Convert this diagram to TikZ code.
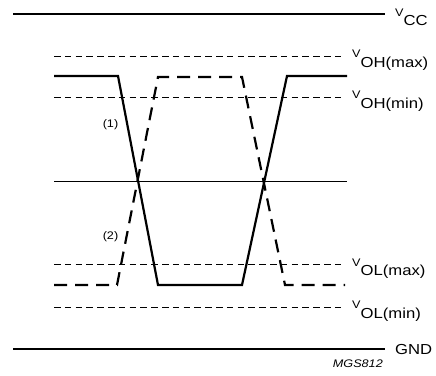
\documentclass[tikz,border=0pt]{standalone}
\usepackage{fontspec}
\setmainfont{Liberation Sans}
\newfontfamily\lbl[FakeStretch=1.15]{Liberation Sans}
\newcommand{\Vsub}[1]{{\fontsize{11}{12}\selectfont V}\raisebox{-9.5pt}{\fontsize{14.5}{16}\selectfont #1}}
\begin{document}
\begin{tikzpicture}[x=1pt,y=-1pt,
  rail/.style={line width=1.4pt},
  lvl/.style={line width=1pt, dash pattern=on 6.5pt off 4.3pt},
  sig/.style={line width=2.2pt, line join=miter},
  sigd/.style={line width=2.2pt, dash pattern=on 13pt off 8pt},
  mid/.style={line width=1pt},
  lab/.style={inner sep=0pt, font=\lbl, anchor=base west},
  small/.style={inner sep=0pt, font=\lbl\fontsize{11}{12}\selectfont}]
\useasboundingbox (0,0) rectangle (436,375);
\fill[white] (0,0) rectangle (436,375);
% rails
\coordinate (vccL) at (13,14);  \coordinate (vccR) at (385,14);
\coordinate (gndL) at (13,349); \coordinate (gndR) at (385,349);
\draw[rail] (vccL) -- (vccR);
\draw[rail] (gndL) -- (gndR);
% levels
\coordinate (ohmaxL) at (54,56);  \coordinate (ohmaxR) at (345,56);
\coordinate (ohminL) at (54,97);  \coordinate (ohminR) at (345,97);
\coordinate (olmaxL) at (54,264); \coordinate (olmaxR) at (345,264);
\coordinate (olminL) at (54,307); \coordinate (olminR) at (345,307);
\draw[lvl] (ohmaxL) -- (ohmaxR);
\draw[lvl] (ohminL) -- (ohminR);
\draw[lvl] (olmaxL) -- (olmaxR);
\draw[lvl] (olminL) -- (olminR);
% midline
\coordinate (midL) at (54,181); \coordinate (midR) at (347,181);
\draw[mid] (midL) -- (midR);
% signal (1)
\coordinate (s0) at (54,76);  \coordinate (s1) at (118,76);
\coordinate (s2) at (158,285); \coordinate (s3) at (242,285);
\coordinate (s4) at (287,76); \coordinate (s5) at (347,76);
\draw[sig] (s0) -- (s1) -- (s2) -- (s3) -- (s4) -- (s5);
% signal (2)
\coordinate (d0) at (54,285);  \coordinate (d1) at (117,285);
\coordinate (d2) at (158,77);  \coordinate (d3) at (242,77);
\coordinate (d4) at (285,285); \coordinate (d5) at (345,285);
\draw[sigd] (d0) -- (d1) -- (d2) -- (d3) -- (d4) -- (d5);
% labels
\node[lab] (lvcc) at (395,16) {\Vsub{CC}};
\node[lab] (lohmax) at (352,57.5) {\Vsub{OH(max)}};
\node[lab] (lohmin) at (352,98.5) {\Vsub{OH(min)}};
\node[lab] (lolmax) at (352,266) {\Vsub{OL(max)}};
\node[lab] (lolmin) at (352,308.5) {\Vsub{OL(min)}};
\node[lab, font=\lbl\fontsize{14.5}{16}\selectfont] (lgnd) at (395,354) {GND};
\node[small] (l1) at (110.5,125) {(1)};
\node[small] (l2) at (110.5,237) {(2)};
\node[inner sep=0pt, anchor=base east, font=\lbl\fontsize{11}{12}\selectfont\itshape] (code) at (383,367) {MGS812};
\end{tikzpicture}
\end{document}
